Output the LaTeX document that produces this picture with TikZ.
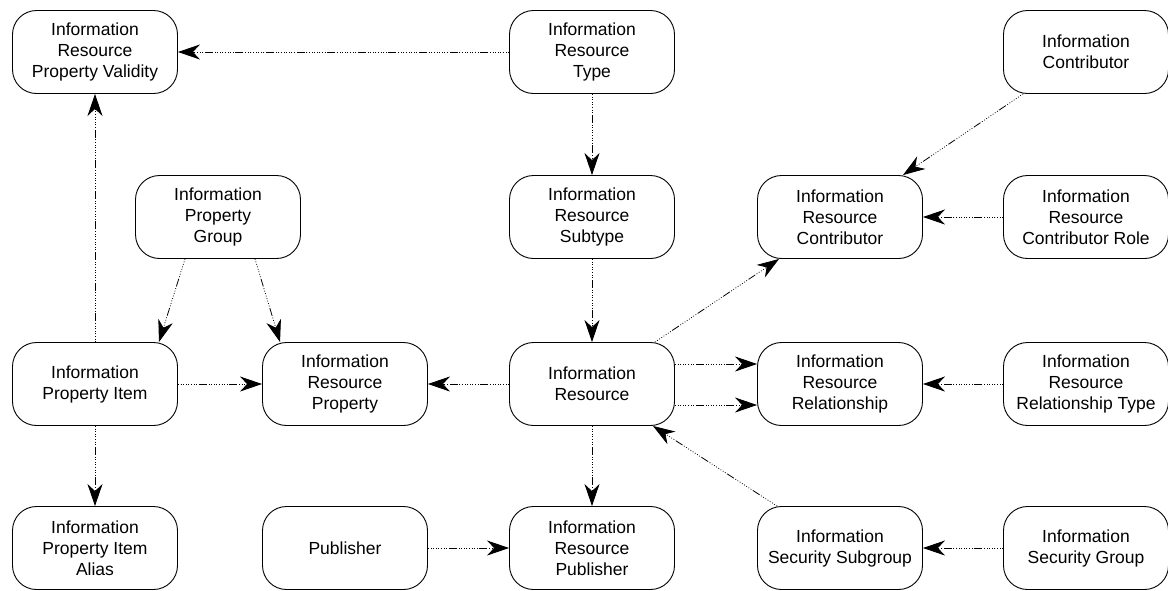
\documentclass[tikz,border=0pt]{standalone}
\usepackage{fontspec}
\setmainfont{Liberation Sans}
\usetikzlibrary{arrows.meta}
\tikzset{
  ent/.style={draw, line width=0.9pt, rounded corners=24pt, minimum width=165pt, minimum height=83pt, inner sep=0pt, align=center, font=\fontsize{17.5}{21}\selectfont},
  conn/.style={line width=0.8pt, dash pattern=on 0.8pt off 1.8pt on 0.8pt off 1.8pt on 0.8pt off 1.8pt on 0.8pt off 1.8pt on 0.8pt off 1.8pt on 0.8pt off 1.8pt on 0.8pt off 1.8pt on 0.8pt off 1.8pt on 8pt off 1.8pt, -{Stealth[length=22pt,width=15pt,inset=7pt]}}
}
\begin{document}
\begin{tikzpicture}[x=1pt,y=-1pt]
\useasboundingbox (0,0) rectangle (1168,590);
% row 1
\node[ent] (IRPV) at (95,52) {Information\\Resource\\Property Validity};
\node[ent] (IRT) at (592,52) {Information\\Resource\\Type};
\node[ent] (IC) at (1086,52) {Information\\Contributor};
% row 2
\node[ent] (IPG) at (218,217) {Information\\Property\\Group};
\node[ent] (IRS) at (592,217) {Information\\Resource\\Subtype};
\node[ent] (IRC) at (840,217) {Information\\Resource\\Contributor};
\node[ent] (IRCR) at (1086,217) {Information\\Resource\\Contributor Role};
% row 3
\node[ent] (IPI) at (95,384) {Information\\Property Item};
\node[ent] (IRP) at (345,384) {Information\\Resource\\Property};
\node[ent] (IR) at (592,384) {Information\\Resource};
\node[ent] (IRR) at (840,384) {Information\\Resource\\Relationship};
\node[ent] (IRRT) at (1086,384) {Information\\Resource\\Relationship Type};
% row 4
\node[ent] (IPIA) at (95,548) {Information\\Property Item\\Alias};
\node[ent] (PUB) at (345,548) {Publisher};
\node[ent] (IRPUB) at (592,548) {Information\\Resource\\Publisher};
\node[ent] (ISS) at (840,548) {Information\\Security Subgroup};
\node[ent] (ISG) at (1086,548) {Information\\Security Group};
% connectors
\draw[conn] (IRT.west) -- (IRPV.east);
\draw[conn] (IRT.south) -- (IRS.north);
\draw[conn] (IRS.south) -- (IR.north);
\draw[conn] (IR.west) -- (IRP.east);
\draw[conn] ([xshift=-20pt]IR.north east) -- ([xshift=22pt]IRC.south west);
\draw[conn] ([yshift=-21pt]IR.east) -- ([yshift=-21pt]IRR.west);
\draw[conn] ([yshift=20pt]IR.east) -- ([yshift=20pt]IRR.west);
\draw[conn] (IR.south) -- (IRPUB.north);
\draw[conn] ([xshift=20pt]ISS.north west) -- ([xshift=-22pt]IR.south east);
\draw[conn] ([xshift=20pt]IC.south west) -- ([xshift=-20pt]IRC.north east);
\draw[conn] (IRCR.west) -- (IRC.east);
\draw[conn] (IRRT.west) -- (IRR.east);
\draw[conn] (ISG.west) -- (ISS.east);
\draw[conn] (PUB.east) -- (IRPUB.west);
\draw[conn] (IPI.east) -- (IRP.west);
\draw[conn] (IPI.north) -- (IRPV.south);
\draw[conn] (IPI.south) -- (IPIA.north);
\draw[conn] ([xshift=-33pt]IPG.south) -- ([xshift=-19pt]IPI.north east);
\draw[conn] ([xshift=37pt]IPG.south) -- ([xshift=18pt]IRP.north west);
\end{tikzpicture}
\end{document}
